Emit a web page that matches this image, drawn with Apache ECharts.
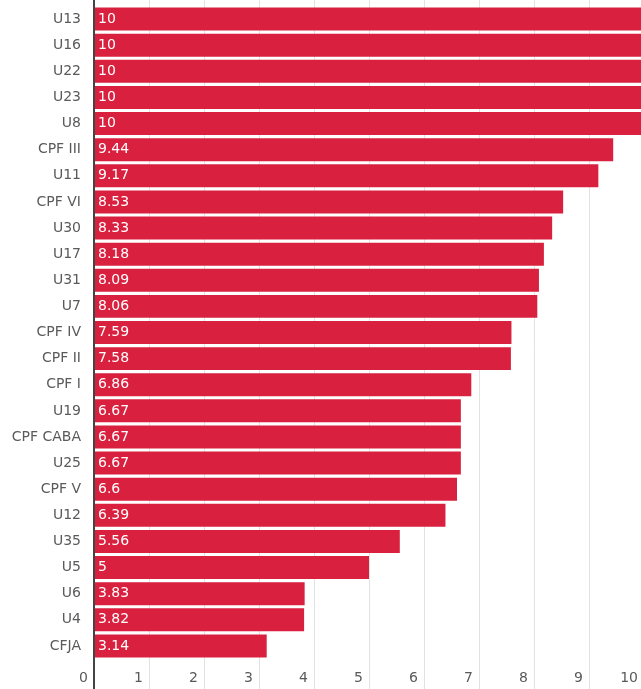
<!DOCTYPE html>
<html>
<head>
<meta charset="utf-8">
<script src="https://cdn.jsdelivr.net/npm/echarts@6/dist/echarts.min.js"></script>
<style>
  html, body { margin: 0; padding: 0; background: #fff; }
  #container { width: 641px; height: 689px; }
</style>
</head>
<body>
<div id="container"></div>
<script>
const categories = ['U13', 'U16', 'U22', 'U23', 'U8', 'CPF III', 'U11', 'CPF VI', 'U30', 'U17',
  'U31', 'U7', 'CPF IV', 'CPF II', 'CPF I', 'U19', 'CPF CABA', 'U25', 'CPF V', 'U12',
  'U35', 'U5', 'U6', 'U4', 'CFJA']
const values = [10, 10, 10, 10, 10, 9.44, 9.17, 8.53, 8.33, 8.18,
  8.09, 8.06, 7.59, 7.58, 6.86, 6.67, 6.67, 6.67, 6.6, 6.39,
  5.56, 5, 3.83, 3.82, 3.14]
const xMin = 0
const xMax = 10
const xStep = 1

const font = 'DejaVu Sans'
const myChart = echarts.init(document.getElementById('container'))

const option = {
  animation: false,
  grid: [
    // bars (the 10 line sits just past the right edge)
    { left: 94, width: 550, top: 6, bottom: 30, outerBoundsMode: 'none' },
    // full-height grid for split lines, x labels and the axis line
    { left: 94, width: 550, top: 0, bottom: 0, outerBoundsMode: 'none' }
  ],
  xAxis: [
    {
      gridIndex: 0,
      type: 'value',
      min: xMin,
      max: xMax,
      interval: xStep,
      show: false
    },
    {
      gridIndex: 1,
      type: 'value',
      min: xMin,
      max: xMax,
      interval: xStep,
      axisLine: { show: false },
      axisTick: { show: false },
      splitLine: { show: true, lineStyle: { color: '#e2e2e2', width: 1 } },
      axisLabel: {
        inside: true,
        margin: 4,
        align: 'right',
        padding: [0, 6, 0, 0],
        color: '#5a5a5a',
        fontSize: 14,
        fontFamily: font
      }
    }
  ],
  yAxis: [
    {
      gridIndex: 0,
      type: 'category',
      inverse: true,
      data: categories,
      axisLine: { show: false },
      axisTick: { show: false },
      splitLine: { show: false },
      axisLabel: {
        margin: 13,
        color: '#5a5a5a',
        fontSize: 14,
        fontFamily: font
      }
    },
    {
      gridIndex: 1,
      type: 'value',
      z: 5,
      axisLine: { show: true, lineStyle: { color: '#444', width: 2 } },
      axisTick: { show: false },
      axisLabel: { show: false },
      splitLine: { show: false }
    }
  ],
  series: [
    {
      type: 'bar',
      xAxisIndex: 0,
      yAxisIndex: 0,
      data: values,
      barCategoryGap: '12%',
      itemStyle: { color: '#d9203e' },
      label: {
        show: true,
        position: 'insideLeft',
        distance: 4,
        color: '#fff',
        fontSize: 14,
        fontFamily: font
      }
    }
  ]
}

myChart.setOption(option)
</script>
</body>
</html>
